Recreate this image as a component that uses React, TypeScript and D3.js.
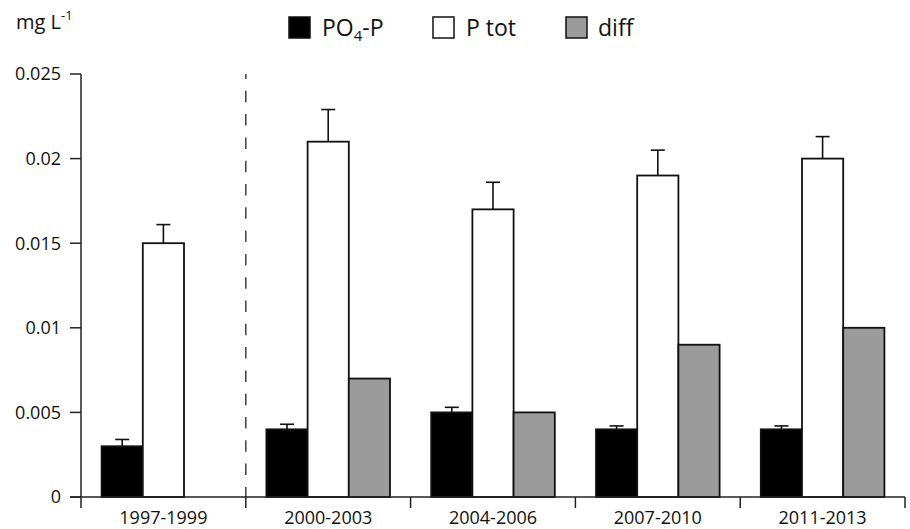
import React from "react";
import * as d3 from "d3";

const categories = ["1997-1999", "2000-2003", "2004-2006", "2007-2010", "2011-2013"];
const po4 = [0.003, 0.004, 0.005, 0.004, 0.004];
const po4Err = [0.0004, 0.0003, 0.0003, 0.0002, 0.0002];
const ptot = [0.015, 0.021, 0.017, 0.019, 0.02];
const ptotErr = [0.0011, 0.0019, 0.0016, 0.0015, 0.0013];
const diff: (number | null)[] = [null, 0.007, 0.005, 0.009, 0.01];
const yTicks = [0, 0.005, 0.01, 0.015, 0.02, 0.025];
const yTickLabels = ["0", "0.005", "0.01", "0.015", "0.02", "0.025"];
const seriesKeys = ["po4", "ptot", "diff"];

const W = 910;
const H = 529;
const FONT = "'Open Sans', 'DejaVu Sans', sans-serif";
const GRAY = "#9b9b9b";
const AX = "#222";

export default function App() {
  const x = d3.scaleBand<string>().domain(categories).range([81, 905]).padding(0);
  const xs = d3
    .scaleBand<string>()
    .domain(seriesKeys)
    .range([0, x.bandwidth()])
    .paddingInner(0)
    .paddingOuter(0.5);
  const y = d3.scaleLinear().domain([0, 0.025]).range([497, 74]);
  const bw = xs.bandwidth();
  const capW = 14;

  const fills: Record<string, string> = { po4: "#000", ptot: "#fff", diff: GRAY };

  const bars: any[] = [];
  categories.forEach((c, i) => {
    const vals: Record<string, number | null> = { po4: po4[i], ptot: ptot[i], diff: diff[i] };
    const errs: Record<string, number | null> = { po4: po4Err[i], ptot: ptotErr[i], diff: null };
    seriesKeys.forEach((k) => {
      const v = vals[k];
      if (v == null) return;
      const bx = (x(c) as number) + (xs(k) as number);
      const cx = bx + bw / 2;
      const e = errs[k];
      if (e != null) {
        bars.push(
          <g key={`e-${c}-${k}`} stroke="#111" strokeWidth={1.6}>
            <line x1={cx} x2={cx} y1={y(v)} y2={y(v + e)} />
            <line x1={cx - capW / 2} x2={cx + capW / 2} y1={y(v + e)} y2={y(v + e)} />
          </g>
        );
      }
      bars.push(
        <rect
          key={`b-${c}-${k}`}
          x={bx}
          y={y(v)}
          width={bw}
          height={y(0) - y(v)}
          fill={fills[k]}
          stroke="#111"
          strokeWidth={1.8}
        />
      );
    });
  });

  const boundaries = [81, ...categories.map((c) => (x(c) as number) + x.bandwidth())];

  return (
    <svg
      width={W}
      height={H}
      style={{ position: "absolute", left: 0, top: 0, background: "#fff" }}
      fontFamily={FONT}
    >
      {/* y unit */}
      <text x={16} y={29} fontSize={20} fill="#111">
        mg L
        <tspan fontSize={13} dy={-9}>-1</tspan>
      </text>

      {/* legend */}
      <rect x={289} y={17} width={21} height={21} fill="#000" stroke="#111" strokeWidth={1.5} />
      <text x={322} y={36} fontSize={23} fill="#111">
        PO
        <tspan fontSize={15} dy={5}>4</tspan>
        <tspan dy={-5}>-P</tspan>
      </text>
      <rect x={433} y={17} width={21} height={21} fill="#fff" stroke="#111" strokeWidth={1.5} />
      <text x={466} y={36} fontSize={23} fill="#111">P tot</text>
      <rect x={566} y={17} width={21} height={21} fill={GRAY} stroke="#111" strokeWidth={1.5} />
      <text x={598} y={36} fontSize={23} fill="#111">diff</text>

      {/* dashed separator */}
      <line
        x1={boundaries[1]}
        x2={boundaries[1]}
        y1={74}
        y2={497}
        stroke="#333"
        strokeWidth={1.4}
        strokeDasharray="11.5,11.8"
        strokeDashoffset={6.5}
      />

      {bars}

      {/* y axis */}
      <line x1={81} x2={81} y1={74} y2={497} stroke={AX} strokeWidth={1.5} />
      {yTicks.map((t, i) => (
        <g key={`yt-${i}`}>
          <line x1={70} x2={81} y1={y(t)} y2={y(t)} stroke={AX} strokeWidth={1.5} />
          <text x={61} y={y(t)} dy="0.35em" textAnchor="end" fontSize={18} fill="#111">
            {yTickLabels[i]}
          </text>
        </g>
      ))}

      {/* x axis */}
      <line x1={70} x2={905} y1={497} y2={497} stroke={AX} strokeWidth={1.5} />
      {boundaries.map((b, i) => (
        <line key={`xt-${i}`} x1={b} x2={b} y1={497} y2={508} stroke={AX} strokeWidth={1.5} />
      ))}
      {categories.map((c) => (
        <text
          key={`xl-${c}`}
          x={(x(c) as number) + x.bandwidth() / 2}
          y={524}
          textAnchor="middle"
          fontSize={18}
          fill="#111"
        >
          {c}
        </text>
      ))}
    </svg>
  );
}
